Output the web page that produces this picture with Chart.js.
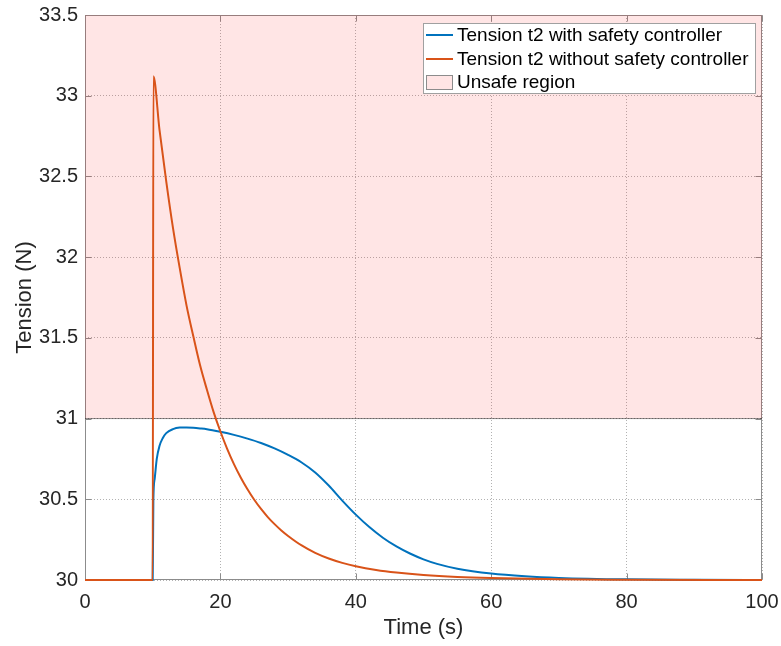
<!DOCTYPE html>
<html>
<head>
<meta charset="utf-8">
<script src="https://cdn.jsdelivr.net/npm/chart.js@4/dist/chart.umd.min.js"></script>
<style>
  html, body { margin: 0; padding: 0; background: #ffffff; }
  canvas { display: block; }
</style>
</head>
<body>
<canvas id="tensionChart" width="781" height="646"></canvas>
<script>
// Axis ticks
const xTicks = [0, 20, 40, 60, 80, 100];
const xTickLabels = ['0', '20', '40', '60', '80', '100'];
const yTicks = [30, 30.5, 31, 31.5, 32, 32.5, 33, 33.5];
const yTickLabels = ['30', '30.5', '31', '31.5', '32', '32.5', '33', '33.5'];

// Tension t2 with the safety controller active
const timeWith = [0, 10, 10.1, 10.3, 10.6, 11, 11.5, 12, 13, 14, 15, 16, 17, 18, 20, 22, 24, 26, 28, 30,
  32, 34, 36, 38, 40, 42, 44, 46, 48, 50, 52, 55, 60, 65, 70, 80, 90, 100];
const tensionWith = [30, 30, 30.5, 30.63, 30.75, 30.83, 30.88, 30.91, 30.935, 30.944, 30.945, 30.943, 30.939, 30.934, 30.918, 30.899, 30.876, 30.849, 30.815, 30.775,
  30.728, 30.666, 30.585, 30.492, 30.405, 30.328, 30.262, 30.208, 30.164, 30.128, 30.100, 30.070, 30.040, 30.023, 30.013, 30.004, 30.0012, 30];

// Tension t2 without the safety controller
const timeWithout = [0, 10, 10.1, 11, 12, 13, 14, 15, 16, 17, 18, 19, 20, 21, 22, 23, 24, 25, 26, 27, 28, 29, 30,
  32, 34, 36, 38, 40, 43, 46, 50, 55, 60, 70, 80, 100];
const tensionWithout = [30, 30, 33.12, 32.79, 32.47, 32.18, 31.93, 31.70, 31.51, 31.33, 31.18, 31.04, 30.92, 30.813, 30.718, 30.635, 30.562, 30.497, 30.440, 30.390, 30.346, 30.307, 30.273,
  30.214, 30.168, 30.133, 30.106, 30.085, 30.062, 30.046, 30.031, 30.019, 30.012, 30.004, 30.0015, 30];

// Unsafe region: everything above this tension limit
const unsafeLimit = 31;
const unsafeSpan = [0, 100];

const seriesLabels = [
  'Tension t2 with safety controller',
  'Tension t2 without safety controller',
  'Unsafe region'
];

const FONT = '"Liberation Sans", Arial, Helvetica, sans-serif';
const TEXT = '#262626';
const FRAME = '#8c8c8c';
const BLUE = '#0072BD';
const ORANGE = '#D95319';
const PINK = 'rgba(255, 0, 0, 0.1)';

const toPoints = (xs, ys) => xs.map((x, i) => ({ x: x, y: ys[i] }));

// Frame with inward tick marks on all four sides (curves are drawn over it)
const framePlugin = {
  id: 'frame',
  beforeDatasetsDraw(chart) {
    const { ctx, chartArea: a, scales } = chart;
    ctx.save();
    ctx.strokeStyle = FRAME;
    ctx.lineWidth = 1;
    const L = Math.round(a.left) + 0.5, R = Math.round(a.right) - 0.5;
    const T = Math.round(a.top) + 0.5, B = Math.round(a.bottom) - 0.5;
    ctx.strokeRect(L, T, R - L, B - T);
    const len = 6;
    ctx.beginPath();
    scales.x.ticks.forEach(t => {
      const px = Math.round(scales.x.getPixelForValue(t.value)) + 0.5;
      ctx.moveTo(px, B); ctx.lineTo(px, B - len);
      ctx.moveTo(px, T); ctx.lineTo(px, T + len);
    });
    scales.y.ticks.forEach(t => {
      const py = Math.round(scales.y.getPixelForValue(t.value)) + 0.5;
      ctx.moveTo(L, py); ctx.lineTo(L + len, py);
      ctx.moveTo(R, py); ctx.lineTo(R - len, py);
    });
    ctx.stroke();
    ctx.restore();
  }
};

// Boxed legend in the upper right corner of the plot
const boxLegendPlugin = {
  id: 'boxLegend',
  afterDraw(chart) {
    const { ctx, chartArea: a } = chart;
    const boxRight = a.right - 7;
    const boxTop = a.top + 8;
    const boxW = 332, boxH = 70;
    const boxLeft = boxRight - boxW;
    ctx.save();
    ctx.fillStyle = '#ffffff';
    ctx.fillRect(boxLeft, boxTop, boxW, boxH);
    ctx.strokeStyle = '#a0a0a0';
    ctx.lineWidth = 1;
    ctx.strokeRect(Math.round(boxLeft) + 0.5, Math.round(boxTop) + 0.5, boxW, boxH);

    const rows = [
      { ds: chart.data.datasets[1], kind: 'line' },
      { ds: chart.data.datasets[0], kind: 'line' },
      { ds: chart.data.datasets[2], kind: 'patch' }
    ];
    const rowY = [boxTop + 12, boxTop + 36, boxTop + 59];
    const symL = boxLeft + 3, symR = boxLeft + 30;
    ctx.font = '19px ' + FONT;
    ctx.textBaseline = 'middle';
    ctx.textAlign = 'left';
    rows.forEach((r, i) => {
      const y = rowY[i];
      if (r.kind === 'line') {
        ctx.strokeStyle = r.ds.borderColor;
        ctx.lineWidth = 2;
        ctx.beginPath();
        ctx.moveTo(symL, y);
        ctx.lineTo(symR, y);
        ctx.stroke();
      } else {
        ctx.fillStyle = r.ds.backgroundColor;
        ctx.fillRect(symL, y - 7, symR - symL, 14);
        ctx.strokeStyle = '#8c8c8c';
        ctx.lineWidth = 1;
        ctx.strokeRect(Math.round(symL) + 0.5, Math.round(y - 7) + 0.5, symR - symL - 1, 14);
      }
      ctx.fillStyle = '#000000';
      ctx.fillText(r.ds.label, symR + 4, y + 1);
    });
    ctx.restore();
  }
};

const ctx = document.getElementById('tensionChart').getContext('2d');
new Chart(ctx, {
  type: 'scatter',
  data: {
    datasets: [
      {
        label: seriesLabels[1],
        data: toPoints(timeWithout, tensionWithout),
        showLine: true,
        borderColor: ORANGE,
        backgroundColor: ORANGE,
        borderWidth: 2,
        pointRadius: 0,
        cubicInterpolationMode: 'monotone',
        fill: false,
        clip: 2
      },
      {
        label: seriesLabels[0],
        data: toPoints(timeWith, tensionWith),
        showLine: true,
        borderColor: BLUE,
        backgroundColor: BLUE,
        borderWidth: 2,
        pointRadius: 0,
        cubicInterpolationMode: 'monotone',
        fill: false,
        clip: 2
      },
      {
        label: seriesLabels[2],
        data: unsafeSpan.map(x => ({ x: x, y: unsafeLimit })),
        showLine: true,
        borderColor: 'rgba(0, 0, 0, 0.45)',
        backgroundColor: PINK,
        borderWidth: 1,
        pointRadius: 0,
        fill: 'end'
      }
    ]
  },
  options: {
    responsive: false,
    animation: false,
    devicePixelRatio: 1,
    layout: { padding: { top: 15, right: 19, left: 0, bottom: 0 } },
    plugins: {
      legend: { display: false },
      tooltip: { enabled: false }
    },
    scales: {
      x: {
        type: 'linear',
        min: xTicks[0],
        max: xTicks[xTicks.length - 1],
        afterBuildTicks: s => { s.ticks = xTicks.map(v => ({ value: v })); },
        afterFit: s => { s.height = 66; s.paddingLeft = 0; s.paddingRight = 0; },
        grid: { color: 'rgba(0, 0, 0, 0.3)', lineWidth: 1, drawTicks: false },
        border: { display: false, dash: [1, 2] },
        ticks: {
          padding: 10,
          color: TEXT,
          maxRotation: 0,
          font: { family: FONT, size: 20 },
          callback: (v, i) => xTickLabels[i]
        },
        title: {
          display: true,
          text: 'Time (s)',
          color: TEXT,
          font: { family: FONT, size: 22 },
          padding: { top: 0, bottom: 5 }
        }
      },
      y: {
        type: 'linear',
        min: yTicks[0],
        max: yTicks[yTicks.length - 1],
        afterBuildTicks: s => { s.ticks = yTicks.map(v => ({ value: v })); },
        afterFit: s => { s.width = 85; s.paddingTop = 0; s.paddingBottom = 0; },
        grid: { color: 'rgba(0, 0, 0, 0.3)', lineWidth: 1, drawTicks: false },
        border: { display: false, dash: [1, 2] },
        ticks: {
          padding: 7,
          color: TEXT,
          font: { family: FONT, size: 20 },
          callback: (v, i) => yTickLabels[i]
        },
        title: {
          display: true,
          text: 'Tension (N)',
          color: TEXT,
          font: { family: FONT, size: 22 },
          padding: { top: 12, bottom: 0 }
        }
      }
    }
  },
  plugins: [framePlugin, boxLegendPlugin]
});
</script>
</body>
</html>
